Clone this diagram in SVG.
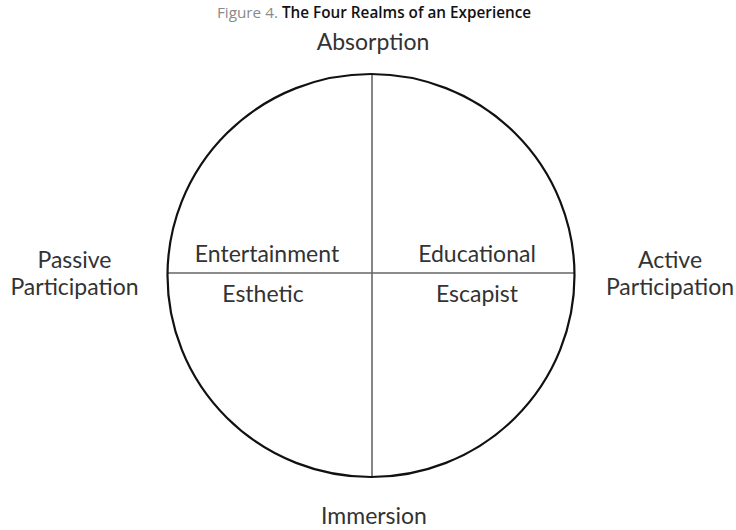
<svg xmlns="http://www.w3.org/2000/svg" width="736" height="530" viewBox="0 0 736 530">
<style>
.lbl{font-family:Lato,"Open Sans","Liberation Sans",sans-serif;font-size:23px;fill:#333;text-anchor:middle}
.ttl{font-family:"Open Sans","Liberation Sans",sans-serif;font-size:15.3px}
</style>
<rect width="736" height="530" fill="#fff"/>
<text id="title" class="ttl" x="374" y="18" text-anchor="middle"><tspan fill="#8a8a8a">Figure  4. </tspan><tspan fill="#111" font-weight="600">The Four Realms of an Experience</tspan></text>
<g id="connectors">
<line x1="372" y1="74" x2="372" y2="477" stroke="#666" stroke-width="1.6"/>
<line x1="168" y1="273" x2="574" y2="273" stroke="#666" stroke-width="1.6"/>
</g>
<g id="circle"><ellipse cx="371" cy="275.5" rx="203.5" ry="201.5" fill="none" stroke="#111" stroke-width="2.2"/></g>
<g id="absorption"><text class="lbl" x="373" y="50">Absorption</text></g>
<g id="immersion"><text class="lbl" x="374" y="524">Immersion</text></g>
<g id="passive"><text class="lbl" x="74.5" y="268">Passive</text><text class="lbl" x="74.5" y="295">Participation</text></g>
<g id="active"><text class="lbl" x="670" y="268">Active</text><text class="lbl" x="670" y="295">Participation</text></g>
<g id="entertainment"><text class="lbl" x="267" y="262">Entertainment</text></g>
<g id="educational"><text class="lbl" x="477" y="262">Educational</text></g>
<g id="esthetic"><text class="lbl" x="263" y="302">Esthetic</text></g>
<g id="escapist"><text class="lbl" x="477" y="302">Escapist</text></g>
</svg>
